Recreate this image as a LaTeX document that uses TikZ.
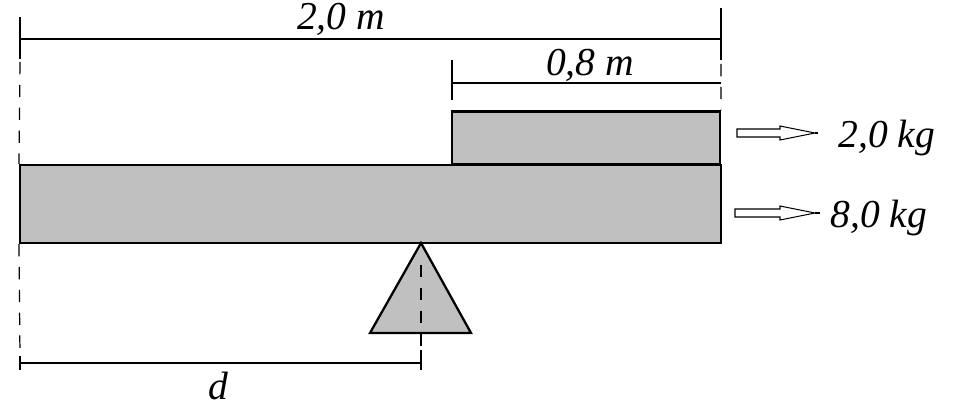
\documentclass[tikz,border=0pt]{standalone}
\usepackage{fontspec}
\setmainfont{Liberation Serif}
\usetikzlibrary{positioning}
\definecolor{beamgray}{RGB}{192,192,192}
\begin{document}
\begin{tikzpicture}[x=0.02cm,y=-0.02cm]
      \tikzstyle{block}=[draw,line width=1.3pt,fill=beamgray,inner sep=0pt]
      \tikzstyle{dim}=[line width=0.7pt]
      \tikzstyle{guide}=[line width=0.7pt,dash pattern=on 7pt off 6pt]
      \tikzstyle{lab}=[font=\fontsize{22.5}{26}\selectfont\itshape,inner sep=0pt,anchor=base,text height=0.7em]
      \tikzstyle{hollow}=[line width=0.6pt,fill=white,line join=miter]
      \useasboundingbox (0,0) rectangle (958,415);

      % beam, load and pivot
      \node[block,minimum width=14.02cm,minimum height=1.56cm] (beam) at (370.5,204) {};
      \node[block,minimum width=5.36cm,minimum height=1.06cm] (load) at (586,138) {};
      \coordinate (pivot) at (421,243);
      \draw[block] (pivot) -- (370,333) -- (471,333) -- cycle;

      % labels
      \node[lab] (len1) at (341,30)  {2,0 m};
      \node[lab] (len2) at (590,76)  {0,8 m};
      \node[lab] (dist) at (218,400) {d};
      \node[lab,anchor=base west] (m2) at (838,148) {2,0 kg};
      \node[lab,anchor=base west] (m8) at (830,228) {8,0 kg};

      % dimension lines
      \draw[dim] (20,39) -- (721,39);
      \draw[dim] (20,17) -- (20,59);
      \draw[dim] (721,8) -- (721,60);
      \draw[dim] (452,83) -- (721,83);
      \draw[dim] (452,60) -- (452,100);
      \draw[dim] (20,363) -- (421,363);
      \draw[dim] (20,356) -- (20,370);
      \draw[dim] (421,350) -- (421,370);

      % guide lines
      \draw[guide] (20,62) -- (beam.north west);
      \draw[guide] (beam.south west) -- (20,356);
      \draw[guide] (721,64) -- (load.north east);
      \draw[guide] (pivot) ++(0,22) -- (421,350);

      % mass arrows
      \draw[hollow] (737,129) -- ++(43,0) -- ++(0,-3) -- ++(35,7) -- ++(-35,7) -- ++(0,-3) -- ++(-43,0) -- cycle;
      \draw[hollow] (735,209) -- ++(45,0) -- ++(0,-3) -- ++(35,7) -- ++(-35,7) -- ++(0,-3) -- ++(-45,0) -- cycle;
      \draw[dim] (815,133) -- (818,133);
      \draw[dim] (815,213) -- (820,213);
\end{tikzpicture}
\end{document}
